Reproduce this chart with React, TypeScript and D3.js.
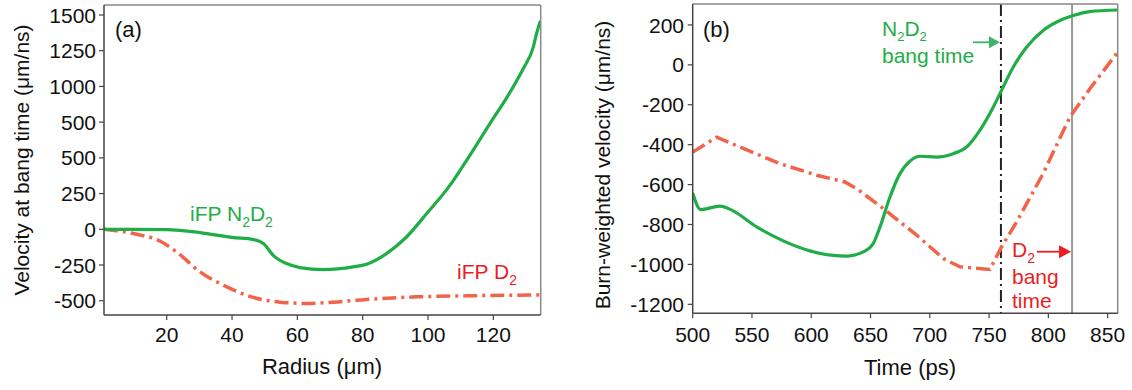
import React from "react";
import * as d3 from "d3";

// Panel (a): velocity at bang time vs radius
const radiusN2D2 = [0.8, 10, 20, 30.2, 40.4, 46.5, 49.6, 52.6, 56.7, 60.8, 67.9, 77.1, 81.2, 87.3, 93.4, 99.6, 106.7, 111.8, 118.9, 125.1, 129.1, 132.2, 133.2, 134.4];
const velN2D2 = [0, 0, -2, -23, -58, -72, -100, -182, -240, -268, -282, -263, -244, -170, -54, 110, 307, 482, 738, 959, 1122, 1273, 1367, 1459];
const radiusD2 = [0.8, 9.8, 17.9, 23, 30.2, 38.4, 46.5, 54.7, 62.8, 71, 81.2, 96.5, 111.8, 134.4];
const velD2 = [0, -30, -82, -158, -298, -403, -477, -510, -519, -510, -491, -473, -466, -459];

// Panel (b): burn-weighted velocity vs time
const timeN2D2 = [500, 506.7, 523, 532.9, 554, 576.4, 598.9, 618.6, 629.8, 643.9, 652.3, 658, 666.4, 674.8, 683.2, 691.7, 705.7, 719.7, 731, 742.2, 753.5, 760.5, 770.3, 781.6, 795.6, 809.7, 821, 835, 858.4];
const bwN2D2 = [-642, -725, -708, -728, -812, -882, -932, -955, -958, -937, -895, -812, -662, -545, -483, -458, -462, -445, -412, -328, -212, -128, -12, 88, 172, 222, 247, 267, 275];
const timeD2 = [500, 520.2, 539.9, 573.6, 604.6, 628.4, 638.3, 660.7, 688.9, 711.3, 725.4, 750.7, 760.5, 773.2, 795.6, 818.1, 835, 858.4];
const bwD2 = [-437, -362, -412, -495, -553, -587, -620, -720, -853, -970, -1012, -1025, -912, -787, -545, -262, -120, 63];

const bangN2D2 = 760;
const bangD2 = 820;

const xTicksA = [20, 40, 60, 80, 100, 120];
const yTicksA = [-500, -250, 0, 250, 500, 750, 1000, 1250, 1500];
const yTickLabelsA = ["-500", "-250", "0", "250", "500", "500", "1000", "1250", "1500"];
const xTicksB = [500, 550, 600, 650, 700, 750, 800, 850];
const yTicksB = [-1200, -1000, -800, -600, -400, -200, 0, 200];

const GREEN = "#1fad47";
const ORANGE = "#f1644a";
const RED = "#ec1c24";
const FONT = "'Liberation Sans', Arial, Helvetica, sans-serif";

export default function App() {
  const xA = d3.scaleLinear().domain([0.8, 134.5]).range([104, 540.7]);
  const yA = d3.scaleLinear().domain([-600, 1570]).range([315, 5]);
  const xB = d3.scaleLinear().domain([500, 858.5]).range([692.7, 1117.7]);
  const yB = d3.scaleLinear().domain([-1245, 305]).range([313.3, 4]);

  const lineA = d3
    .line<[number, number]>()
    .x((d) => xA(d[0]))
    .y((d) => yA(d[1]))
    .curve(d3.curveMonotoneX);
  const lineBsmooth = d3
    .line<[number, number]>()
    .x((d) => xB(d[0]))
    .y((d) => yB(d[1]))
    .curve(d3.curveMonotoneX);
  const lineBlin = d3
    .line<[number, number]>()
    .x((d) => xB(d[0]))
    .y((d) => yB(d[1]))
    .curve(d3.curveLinear);

  const aN = radiusN2D2.map((r, i) => [r, velN2D2[i]] as [number, number]);
  const aD = radiusD2.map((r, i) => [r, velD2[i]] as [number, number]);
  const bN = timeN2D2.map((t, i) => [t, bwN2D2[i]] as [number, number]);
  const bD = timeD2.map((t, i) => [t, bwD2[i]] as [number, number]);

  const tickFont = 21;
  const axisCol = "#444";
  const frameCol = "#888";

  const frame = (x0: number, x1: number, y0: number, y1: number) => (
    <g>
      <line x1={x0} x2={x1} y1={y0} y2={y0} stroke={frameCol} strokeWidth={1.5} />
      <line x1={x1} x2={x1} y1={y0} y2={y1} stroke={frameCol} strokeWidth={1.5} />
      <line x1={x0} x2={x0} y1={y0} y2={y1} stroke={axisCol} strokeWidth={1.5} />
      <line x1={x0} x2={x1} y1={y1} y2={y1} stroke={axisCol} strokeWidth={1.5} />
    </g>
  );

  return (
    <svg
      width={1132}
      height={390}
      style={{ position: "absolute", left: 0, top: 0, background: "#fff" }}
      fontFamily={FONT}
    >
      <defs>
        <clipPath id="clipA">
          <rect x={104} y={5} width={540.7 - 104} height={310} />
        </clipPath>
        <clipPath id="clipB">
          <rect x={692.7} y={4} width={1117.7 - 692.7} height={309.3} />
        </clipPath>
      </defs>

      {/* ===== Panel (a) ===== */}
      <g clipPath="url(#clipA)">
        <path d={lineA(aD) || ""} fill="none" stroke={ORANGE} strokeWidth={3.5} strokeDasharray="14 5 3 5" />
        <path d={lineA(aN) || ""} fill="none" stroke={GREEN} strokeWidth={3.2} />
      </g>
      {frame(104, 540.7, 5, 315)}
      {yTicksA.map((v, i) => (
        <g key={"ya" + i}>
          <line x1={99} x2={104} y1={yA(v)} y2={yA(v)} stroke={axisCol} strokeWidth={1.2} />
          <text x={96} y={yA(v)} dy="0.36em" textAnchor="end" fontSize={tickFont} fill="#111">
            {yTickLabelsA[i]}
          </text>
        </g>
      ))}
      {xTicksA.map((v) => (
        <g key={"xa" + v}>
          <line x1={xA(v)} x2={xA(v)} y1={315} y2={320} stroke={axisCol} strokeWidth={1.2} />
          <text x={xA(v)} y={342} textAnchor="middle" fontSize={tickFont} fill="#111">
            {v}
          </text>
        </g>
      ))}
      <text x={322} y={374} textAnchor="middle" fontSize={22} fill="#111">
        Radius (μm)
      </text>
      <text transform="translate(29,160) rotate(-90)" textAnchor="middle" fontSize={21} fill="#111">
        Velocity at bang time (μm/ns)
      </text>
      <text x={115} y={37} fontSize={22} fill="#111">
        (a)
      </text>
      <text x={190} y={221} fontSize={21} fill={GREEN}>
        <tspan>iFP N</tspan>
        <tspan fontSize={14} dy={6}>2</tspan>
        <tspan dy={-6}>D</tspan>
        <tspan fontSize={14} dy={6}>2</tspan>
      </text>
      <text x={457} y={279} fontSize={21} fill={RED}>
        <tspan>iFP D</tspan>
        <tspan fontSize={14} dy={6}>2</tspan>
      </text>

      {/* ===== Panel (b) ===== */}
      <g clipPath="url(#clipB)">
        <line x1={xB(bangN2D2)} x2={xB(bangN2D2)} y1={4} y2={313.3} stroke="#222" strokeWidth={2} strokeDasharray="12 4 2 4" />
        <line x1={xB(bangD2)} x2={xB(bangD2)} y1={4} y2={313.3} stroke="#999" strokeWidth={2} />
        <path d={lineBlin(bD) || ""} fill="none" stroke={ORANGE} strokeWidth={3.5} strokeDasharray="14 5 3 5" />
        <path d={lineBsmooth(bN) || ""} fill="none" stroke={GREEN} strokeWidth={3.2} />
      </g>
      {frame(692.7, 1117.7, 4, 313.3)}
      {yTicksB.map((v) => (
        <g key={"yb" + v}>
          <line x1={687.7} x2={692.7} y1={yB(v)} y2={yB(v)} stroke={axisCol} strokeWidth={1.2} />
          <text x={684} y={yB(v)} dy="0.36em" textAnchor="end" fontSize={tickFont} fill="#111">
            {v}
          </text>
        </g>
      ))}
      {xTicksB.map((v) => (
        <g key={"xb" + v}>
          <line x1={xB(v)} x2={xB(v)} y1={313.3} y2={318.3} stroke={axisCol} strokeWidth={1.2} />
          <text x={xB(v)} y={342} textAnchor="middle" fontSize={tickFont} fill="#111">
            {v}
          </text>
        </g>
      ))}
      <text x={910} y={375} textAnchor="middle" fontSize={22} fill="#111">
        Time (ps)
      </text>
      <text transform="translate(610,165) rotate(-90)" textAnchor="middle" fontSize={21} fill="#111">
        Burn-weighted velocity (μm/ns)
      </text>
      <text x={703} y={37} fontSize={22} fill="#111">
        (b)
      </text>

      {/* N2D2 bang time annotation */}
      <text x={882} y={36} fontSize={21} fill={GREEN}>
        <tspan>N</tspan>
        <tspan fontSize={13} dy={5}>2</tspan>
        <tspan dy={-5}>D</tspan>
        <tspan fontSize={13} dy={5}>2</tspan>
      </text>
      <text x={882} y={63} fontSize={21} fill={GREEN}>
        bang time
      </text>
      <line x1={973} x2={991} y1={42.3} y2={42.3} stroke="#3cb371" strokeWidth={1.8} />
      <path d={`M ${xB(bangN2D2) - 1},42.3 L ${xB(bangN2D2) - 12},36.3 L ${xB(bangN2D2) - 12},48.3 Z`} fill="#3cb371" />

      {/* D2 bang time annotation */}
      <text x={1012} y={257} fontSize={21} fill={RED}>
        <tspan>D</tspan>
        <tspan fontSize={14} dy={6}>2</tspan>
      </text>
      <text x={1012} y={284} fontSize={21} fill={RED}>
        bang
      </text>
      <text x={1012} y={308} fontSize={21} fill={RED}>
        time
      </text>
      <line x1={1037} x2={1060} y1={251.7} y2={251.7} stroke={RED} strokeWidth={1.8} />
      <path d={`M ${xB(bangD2) - 1},251.7 L ${xB(bangD2) - 13},245.2 L ${xB(bangD2) - 13},258.2 Z`} fill={RED} />
    </svg>
  );
}
